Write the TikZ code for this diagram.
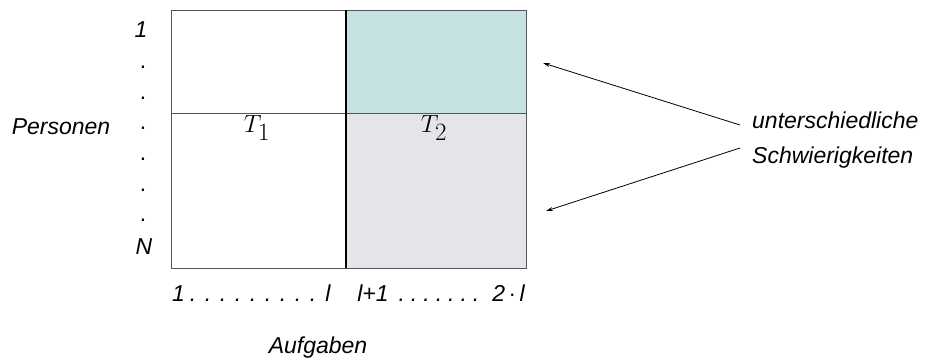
\documentclass[tikz,border=0pt]{standalone}
\usepackage[no-math]{fontspec}
\setmainfont{Liberation Sans}
\usepackage{tikz}
\usetikzlibrary{arrows.meta,positioning}
\definecolor{teal2}{HTML}{C5E1E1}
\definecolor{grey2}{HTML}{E4E5E9}
\definecolor{rim}{HTML}{555555}
\newcommand{\wdot}{\hspace{8.6pt}.}
\newcommand{\ndot}{\hspace{6pt}.}
\begin{document}
\begin{tikzpicture}[x=1pt,y=-1pt,>={Stealth[length=7pt,width=4pt]}]
\tikzstyle{lbl}=[inner sep=0pt,font=\fontsize{23}{26}\selectfont\itshape]
\tikzstyle{tt}=[inner sep=0pt,font=\fontsize{43}{45}\selectfont]
\tikzstyle{dot}=[inner sep=0pt,font=\fontsize{23}{26}\selectfont]
\useasboundingbox (0,0) rectangle (934,360);
% the table
\fill[teal2] (346,10) rectangle (526,113);
\fill[grey2] (346,113) rectangle (526,268);
\draw[rim,line width=1pt] (171,10) rectangle (526,268);
\draw[rim,line width=1pt] (171,113) -- (526,113);
\draw[black,line width=2pt] (346,10) -- (346,268);
\node[tt] (t1) at (257,128) {$T_1$};
\node[tt] (t2) at (434,128) {$T_2$};
% persons
\node[lbl] (p1) at (141,30) {1};
\foreach \y [count=\i] in {67,98,128,159,190,220}
  \node[dot] (d\i) at (143,\y) {.};
\node[lbl] (pn) at (144,247) {N};
\node[lbl] (pers) at (61,127) {Personen};
% tasks
\node[lbl,anchor=west] (a1) at (172,293) {1\hspace{5pt}.\wdot\wdot\wdot\wdot\wdot\wdot\wdot\wdot\hspace{9pt}l};
\node[lbl,anchor=east] (a2) at (525,293) {l+1\hspace{10pt}.\ndot\ndot\ndot\ndot\ndot\ndot\hspace{13pt}2\,$\cdot$\,l};
\node[lbl] (auf) at (318,348) {Aufgaben};
% difficulties
\node[lbl,anchor=west,align=left] (diff) at (752,140) {unterschiedliche\\[9pt]Schwierigkeiten};
\coordinate (s1) at (740,125);
\coordinate (s2) at (740,148);
\coordinate (e1) at (543,63);
\coordinate (e2) at (546,211);
\draw[->,line width=0.8pt] (s1) -- (e1);
\draw[->,line width=0.8pt] (s2) -- (e2);
\end{tikzpicture}
\end{document}
